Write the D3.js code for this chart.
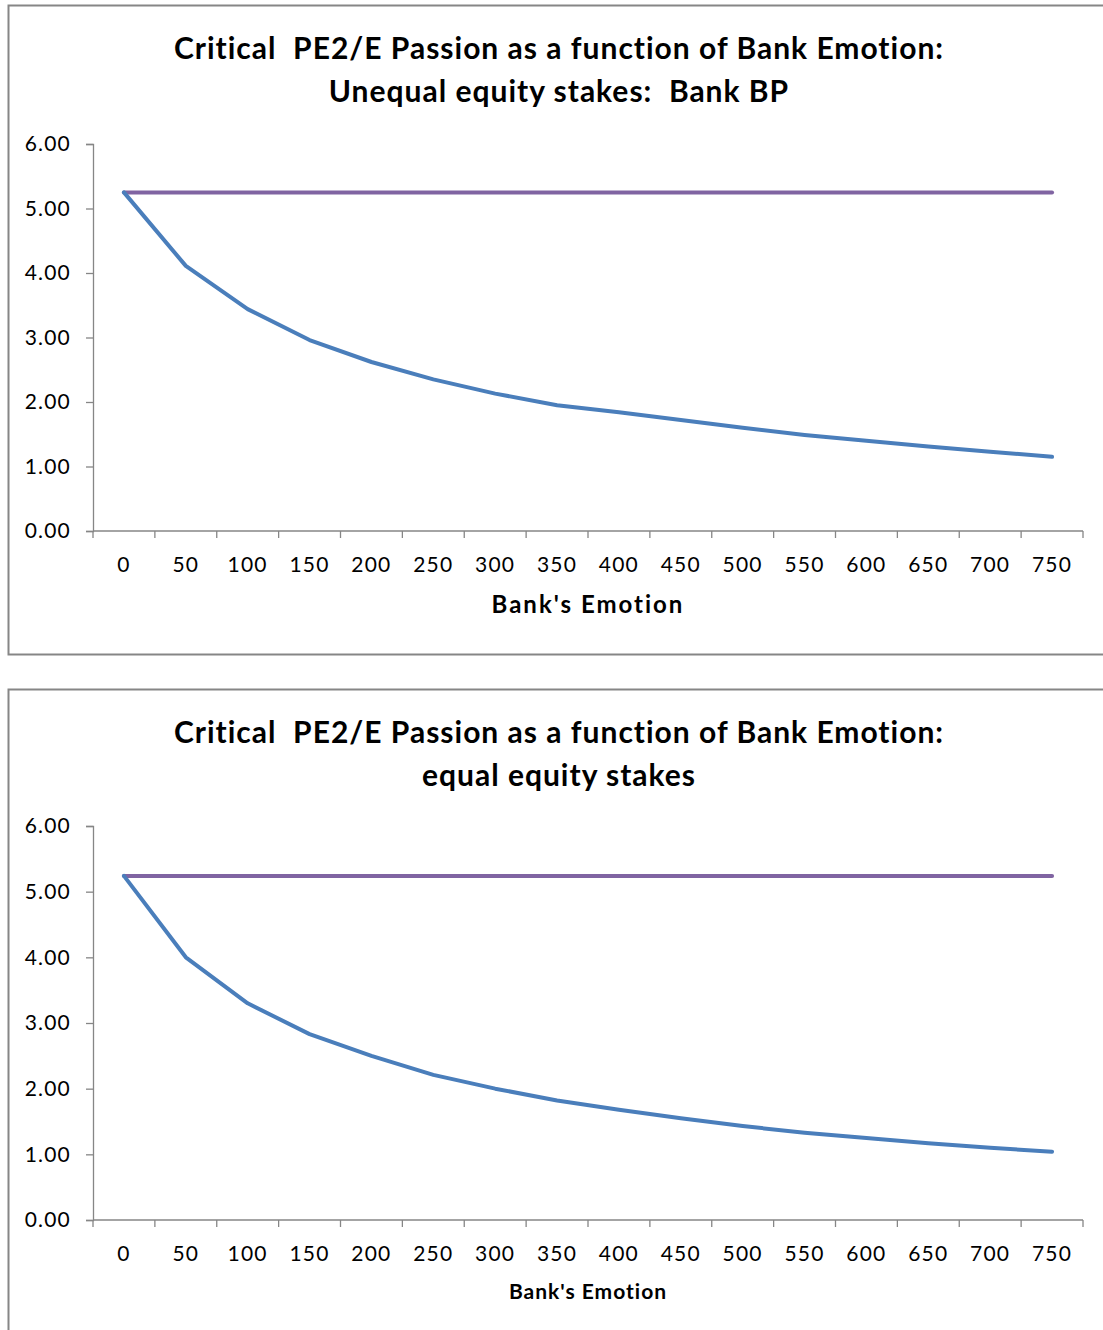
<!DOCTYPE html>
<html>
<head>
<meta charset="utf-8">
<script src="https://cdn.jsdelivr.net/npm/d3@7"></script>
<style>
  body { margin: 0; background: #fff; }
  svg { display: block; }
  text { font-family: Lato, "Open Sans", sans-serif; fill: #000; white-space: pre; }
</style>
</head>
<body>
<div id="chart"></div>
<script>
// Bank's emotion categories (x axis)
const emotions = [0, 50, 100, 150, 200, 250, 300, 350, 400, 450, 500, 550, 600, 650, 700, 750];
const yTicks = [0, 1, 2, 3, 4, 5, 6];

// chart 1: unequal equity stakes, Bank BP
const unequalCritical = [5.25, 4.11, 3.44, 2.96, 2.62, 2.35, 2.13, 1.95, 1.84, 1.72, 1.60, 1.49, 1.40, 1.31, 1.23, 1.15];
const unequalFlat = [5.25, 5.25, 5.25, 5.25, 5.25, 5.25, 5.25, 5.25, 5.25, 5.25, 5.25, 5.25, 5.25, 5.25, 5.25, 5.25];

// chart 2: equal equity stakes
const equalCritical = [5.24, 4.00, 3.30, 2.83, 2.50, 2.21, 2.00, 1.82, 1.68, 1.55, 1.43, 1.33, 1.25, 1.17, 1.10, 1.04];
const equalFlat = [5.24, 5.24, 5.24, 5.24, 5.24, 5.24, 5.24, 5.24, 5.24, 5.24, 5.24, 5.24, 5.24, 5.24, 5.24, 5.24];

const titles1 = ["Critical  PE2/E Passion as a function of Bank Emotion:", "Unequal equity stakes:  Bank BP"];
const titles2 = ["Critical  PE2/E Passion as a function of Bank Emotion:", "equal equity stakes"];

const W = 1103, H = 1330;
const svg = d3.select("#chart").append("svg")
  .attr("width", W)
  .attr("height", H);

const axisColor = "#868686";

function drawChart(top, plotTop, plotBottom, titles, blue, purple, xTitleSize, xTitleSpacing, xTitleOffset) {
  const g = svg.append("g");

  // frame (right side runs off the page)
  g.append("rect")
    .attr("x", 8.5).attr("y", top + 0.5)
    .attr("width", 1110).attr("height", 649)
    .attr("fill", "none")
    .attr("stroke", axisColor)
    .attr("stroke-width", 2);

  const x = d3.scaleBand().domain(emotions).range([93, 1083]);
  const y = d3.scaleLinear().domain([0, 6]).range([plotBottom, plotTop]);

  // title
  titles.forEach((t, i) => {
    g.append("text")
      .attr("x", 559)
      .attr("y", top + 54 + i * 43)
      .attr("xml:space", "preserve")
      .attr("text-anchor", "middle")
      .style("font-size", "30px")
      .style("font-weight", "bold")
      .style("letter-spacing", "1px")
      .text(t);
  });

  // y axis
  const yAxis = g.append("g")
    .attr("transform", "translate(93,0)")
    .call(d3.axisLeft(y).tickValues(yTicks).tickFormat(d3.format(".2f")).tickSize(7).tickPadding(15));
  yAxis.select(".domain").attr("stroke", axisColor).attr("stroke-width", 1.3);
  yAxis.selectAll(".tick line").attr("stroke", axisColor).attr("stroke-width", 1.3);
  yAxis.selectAll(".tick text")
    .style("font-size", "21px")
    .style("font-family", "Lato, sans-serif")
    .style("letter-spacing", "1.2px")
    .attr("fill", "#222");

  // x axis: ticks on the category boundaries
  const xAxis = g.append("g").attr("transform", "translate(0," + plotBottom + ")");
  xAxis.append("line")
    .attr("x1", x.range()[0]).attr("x2", x.range()[1])
    .attr("stroke", axisColor).attr("stroke-width", 1.3);
  const bounds = emotions.map(d => x(d)).concat([x.range()[1]]);
  xAxis.selectAll(".xtick").data(bounds).enter().append("line")
    .attr("class", "xtick")
    .attr("x1", d => d).attr("x2", d => d)
    .attr("y1", 0).attr("y2", 7)
    .attr("stroke", axisColor).attr("stroke-width", 1.3);
  xAxis.selectAll(".xlab").data(emotions).enter().append("text")
    .attr("class", "xlab")
    .attr("x", d => x(d) + x.bandwidth() / 2)
    .attr("y", 41)
    .attr("text-anchor", "middle")
    .attr("fill", "#222")
    .style("font-size", "21px")
    .style("letter-spacing", "1.2px")
    .text(d => d);

  // x axis title
  g.append("text")
    .attr("x", 588)
    .attr("y", plotBottom + xTitleOffset)
    .attr("text-anchor", "middle")
    .style("font-size", xTitleSize)
    .style("font-weight", "bold")
    .style("letter-spacing", xTitleSpacing)
    .text("Bank's Emotion");

  const line = d3.line()
    .x((d, i) => x(emotions[i]) + x.bandwidth() / 2)
    .y(d => y(d));

  g.append("path").datum(purple)
    .attr("d", line)
    .attr("fill", "none")
    .attr("stroke", "#8064a2")
    .attr("stroke-width", 4)
    .attr("stroke-linecap", "round");

  g.append("path").datum(blue)
    .attr("d", line)
    .attr("fill", "none")
    .attr("stroke", "#4a7ebb")
    .attr("stroke-width", 4)
    .attr("stroke-linejoin", "round")
    .attr("stroke-linecap", "round");
}

drawChart(5, 144, 531, titles1, unequalCritical, unequalFlat, "24px", "2px", 82);
drawChart(689, 826, 1220, titles2, equalCritical, equalFlat, "21px", "1px", 79);
</script>
</body>
</html>
